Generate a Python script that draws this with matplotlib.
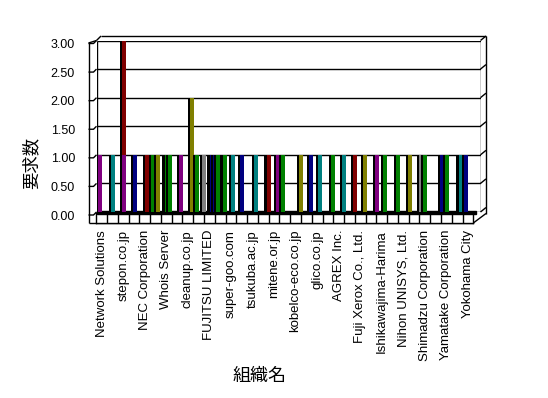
import matplotlib
matplotlib.use('Agg')
import matplotlib.pyplot as plt
import matplotlib.transforms as mtransforms
import numpy as np

W, H = 548, 398

# every other organisation is labelled on the category axis
org_labels = ['Network Solutions', 'stepon.co.jp', 'NEC Corporation', 'Whois Server',
              'cleanup.co.jp', 'FUJITSU LIMITED', 'super-goo.com', 'tsukuba.ac.jp',
              'mitene.or.jp', 'kobelco-eco.co.jp', 'glico.co.jp', 'AGREX Inc.',
              'Fuji Xerox Co., Ltd.', 'Ishikawajima-Harima', 'Nihon UNISYS, Ltd.',
              'Shimadzu Corporation', 'Yamatake Corporation', 'Yokohama City']
n_orgs = 35
n_series = 10
y_ticks = [0.0, 0.5, 1.0, 1.5, 2.0, 2.5, 3.0]

# non-zero bars: organisation index, series index inside the cluster, value
bar_org = [0, 1, 2, 2, 3, 4, 5, 5, 6, 6, 7, 8, 9, 9, 10, 10, 10, 11, 12, 13,
           14, 15, 16, 16, 18, 19, 20, 21, 22, 23, 24, 25, 26, 27, 28, 29, 29,
           31, 31, 33, 33]
bar_series = [1, 3, 3, 3, 3, 4, 0, 4, 2, 5, 5, 5, 0, 6, 3, 6, 9, 5, 3, 1,
              4, 5, 4, 8, 5, 4, 2, 4, 4, 4, 3, 4, 1, 3, 4, 4, 8,
              3, 8, 0, 5]
bar_value = [1, 1, 3, 1, 1, 1, 1, 1, 1, 1, 1, 2, 1, 1, 1, 1, 1, 1, 1, 1,
             1, 1, 1, 1, 1, 1, 1, 1, 1, 1, 1, 1, 1, 1, 1, 1, 1,
             1, 1, 1, 1]
bar_colours = ['#800080', '#008080', '#800000', '#800080', '#000080', '#800000',
               '#008000', '#808000', '#008000', '#008000', '#800080', '#808000',
               '#008000', '#808080', '#000080', '#000080', '#008000', '#008000',
               '#008080', '#000080', '#008080', '#800000', '#800080', '#008000',
               '#808000', '#000080', '#008080', '#008000', '#008080', '#800000',
               '#808000', '#800080', '#008000', '#008000', '#808000', '#808080',
               '#008000', '#000080', '#008000', '#008080', '#000080']

CJK = ['Noto Sans CJK JP', 'DejaVu Sans']
plt.rcParams['font.family'] = ['Liberation Sans', 'DejaVu Sans']


def fig_box(x0, y0, x1, y1):
    # pixel box, origin top-left -> [left, bottom, width, height]
    return [x0 / W, 1 - y1 / H, (x1 - x0) / W, (y1 - y0) / H]


fig = plt.figure(figsize=(W / 100, H / 100), dpi=100)
fig.patch.set_facecolor('white')

# pixel layer for the box of the 3-D frame
deco = fig.add_axes([0, 0, 1, 1], zorder=0)
deco.set_xlim(0, W)
deco.set_ylim(H, 0)
deco.axis('off')

# floor front with category cells and labels
axf = fig.add_axes(fig_box(96.3, 213, 473.3, 223), zorder=1)
axf.set_xlim(0, n_orgs)
axf.set_ylim(0, 1)
axf.vlines(np.arange(1, n_orgs), 0, 1, color='black', lw=1)
axf.set_xticks(np.arange(0, n_orgs, 2) + 0.5)
axf.set_xticklabels(org_labels, rotation=90, fontsize=9.5)
axf.tick_params(axis='x', length=0, pad=5)
axf.set_yticks([])
for s in axf.spines.values():
    s.set_linewidth(1)

# back plane where the columns stand
ax = fig.add_axes(fig_box(96.5, 40.5, 480.5, 212), zorder=2)
ax.patch.set_alpha(0)
ax.set_xlim(0, n_orgs)
ax.set_ylim(0, 3)
for s in ax.spines.values():
    s.set_visible(False)
ax.set_xticks([])
ax.set_yticks(y_ticks)
ax.set_yticklabels([f'{v:.2f}' for v in y_ticks], fontsize=9)
ax.tick_params(axis='y', length=0, pad=15.5)
shift = mtransforms.ScaledTranslation(0, -3 / 100, fig.dpi_scale_trans)
for lab in ax.get_yticklabels():
    lab.set_transform(lab.get_transform() + shift)

ax.hlines(y_ticks, 0, n_orgs, color='black', lw=1, zorder=1)
ax.vlines([0, n_orgs], 0, 3, color='black', lw=1, zorder=1)

# flat zero-height columns along the floor
ax.add_patch(plt.Rectangle((0, -0.035), 34.6, 0.061, color='black',
                           clip_on=False, zorder=1.5))

front_w = 4 / 10.97
side_w = 2.2 / 10.97
for i, (o, s, v, c) in enumerate(zip(bar_org, bar_series, bar_value, bar_colours)):
    x = o + s / n_series
    ax.bar(x - side_w, v, width=side_w, align='edge', color='black', zorder=2 + i * 0.01)
    ax.bar(x, v, width=front_w, align='edge', color=c, zorder=2.005 + i * 0.01)

# frame lines, placed from the data transform of the back plane
fig.canvas.draw()
to_px = lambda xd, yd: (lambda p: (p[0], H - p[1]))(ax.transData.transform((xd, yd)))
lx, _ = to_px(0, 0)
rx, _ = to_px(n_orgs, 0)
_, top_y = to_px(0, 3)
_, base_y = to_px(0, 0)
kw = dict(color='black', lw=1, solid_capstyle='butt')
deco.plot([88.5, 88.5], [43, 223], **kw)
deco.plot([88.5, lx], [43, top_y], **kw)
deco.plot([lx, lx + 4.5], [top_y, top_y - 4.5], **kw)
deco.plot([lx + 4.5, rx + 5.5], [top_y - 4.5, top_y - 4.5], **kw)
deco.plot([rx + 5.5, rx + 5.5], [top_y - 4.5, base_y + 1.5], **kw)
deco.plot([88.5, 473.3], [223, 223], **kw)
deco.plot([473.3, rx + 5.5], [223, base_y + 1.5], **kw)
for v in y_ticks:
    _, by = to_px(0, v)
    deco.plot([88.5, 93.5, lx], [by + 3, by + 3, by], **kw)
    deco.plot([rx, rx + 5.5], [by, by - 4.5], **kw)

fig.text(31 / W, 1 - 163 / H, '要求数', rotation=90, ha='center', va='center',
         fontsize=12.5, family=CJK)
fig.text(260 / W, 1 - 376 / H, '組織名', ha='center', va='center',
         fontsize=13, family=CJK)

fig.savefig('out.png', dpi=100, facecolor='white')
